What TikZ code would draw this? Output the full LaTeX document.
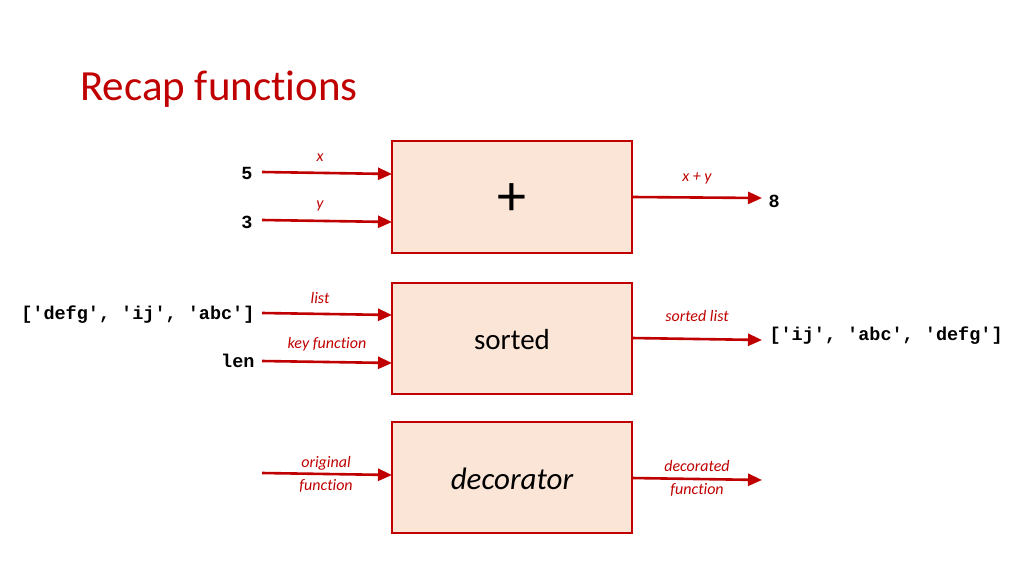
\documentclass[tikz,border=0pt]{standalone}
\usetikzlibrary{arrows.meta}
\usepackage{fontspec}
\setmainfont{Carlito}[Ligatures={NoCommon}]
\setmonofont{Liberation Mono}
\definecolor{dred}{HTML}{C00000}
\definecolor{peach}{HTML}{FBE5D6}
\begin{document}
\begin{tikzpicture}[x=1pt,y=-1pt,
  fbox/.style={draw=dred,fill=peach,line width=2pt},
  arr/.style={draw=dred,line width=2.6pt,-{Triangle[length=14pt,width=12pt]}},
  lab/.style={text=dred,font=\fontsize{16}{23}\selectfont\itshape,align=center},
  val/.style={font=\fontsize{18.5}{20}\selectfont\ttfamily\bfseries}]
\useasboundingbox (0,0) rectangle (1024,576);
\node[anchor=base west,text=dred,font=\fontsize{43}{46}\selectfont,inner sep=0] (title) at (80,100) {Recap functions};
% box 1
\draw[fbox] (392,141) rectangle (632,253);
\node (plus) at (512,200) {\fontsize{58}{58}\selectfont +};
\node[val,anchor=east] (v5) at (256,173) {5};
\node[val,anchor=east] (v3) at (256,222) {3};
\coordinate (i1) at (392,174); \coordinate (i2) at (392,222);
\draw[arr] (262,172) -- (i1);
\draw[arr] (262,220) -- (i2);
\node[lab] (lx) at (320,158) {x};
\node[lab] (ly) at (320,206) {y};
\coordinate (o1) at (632,197);
\node[val,anchor=west] (v8) at (765,201) {8};
\draw[arr] (o1) -- (762,198);
\node[lab] (lxy) at (697,178) {x + y};
% box 2
\draw[fbox] (392,283) rectangle (632,394);
\node[font=\fontsize{29}{30}\selectfont] (sorted) at (512,340) {sorted};
\node[val,anchor=east] (lst) at (258,315) {['defg', 'ij', 'abc']};
\node[val,anchor=east] (len) at (258,361) {len};
\draw[arr] (262,313) -- (392,315);
\draw[arr] (262,361) -- (392,363);
\node[lab] (llist) at (320,298) {list};
\node[lab] (lkey) at (327,344) {key function};
\draw[arr] (632,338) -- (762,340);
\node[lab] (lsl) at (697,316) {sorted list};
\node[val,anchor=west] (res) at (766,336) {['ij', 'abc', 'defg']};
% box 3
\draw[fbox] (392,422) rectangle (632,533);
\node[font=\fontsize{31}{32}\selectfont\itshape] (dec) at (512,479) {decorator};
\draw[arr] (262,473) -- (392,475);
\node[lab] (lorig) at (326,474) {original\\function};
\draw[arr] (632,478) -- (762,480);
\node[lab] (ldec) at (697,478) {decorated\\function};
\end{tikzpicture}
\end{document}
